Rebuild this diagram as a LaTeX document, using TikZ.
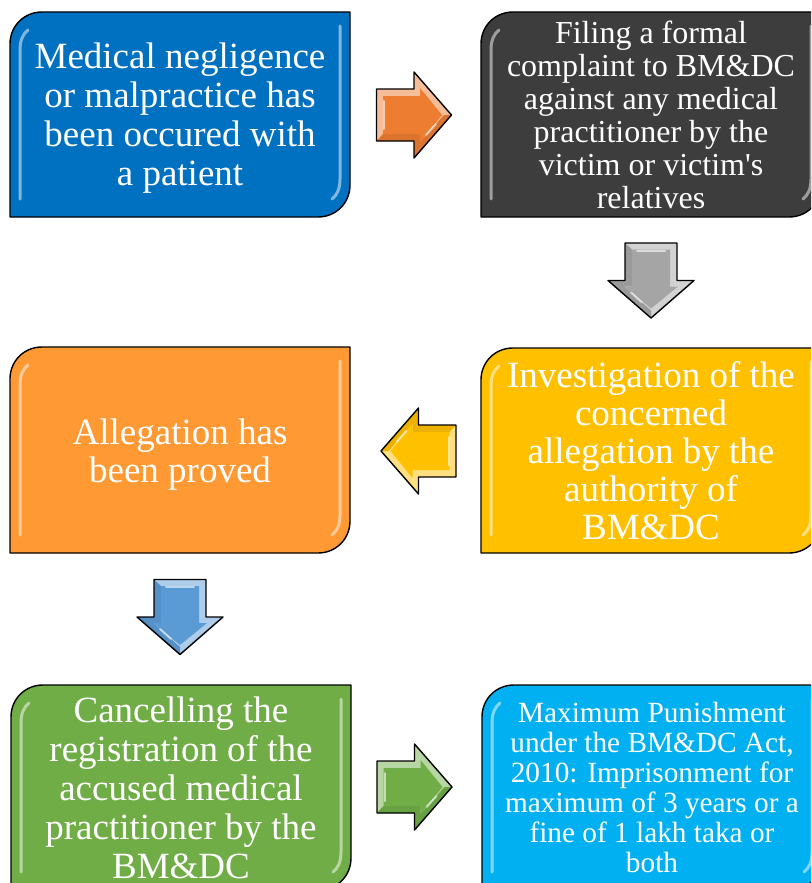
\documentclass[tikz,border=0pt]{standalone}
\usepackage{fontspec}
\setmainfont{Liberation Serif}
\definecolor{boxblue}{HTML}{0070C0}
\definecolor{boxdark}{HTML}{3D3D3D}
\definecolor{boxorange}{HTML}{FF9933}
\definecolor{boxgold}{HTML}{FFC000}
\definecolor{boxgreen}{HTML}{70AD47}
\definecolor{boxcyan}{HTML}{00B0F0}
\definecolor{arrorange}{HTML}{ED7D31}
\definecolor{arrgray}{HTML}{A5A5A5}
\definecolor{arrgold}{HTML}{FFC000}
\definecolor{arrblue}{HTML}{5B9BD5}
\definecolor{arrgreen}{HTML}{70AD47}
\tikzset{
  outline/.style={draw=black, line width=1.4pt, line join=round},
  gloss/.style={draw=white, opacity=0.5, line width=3pt, line cap=round},
  boxtext/.style={text=white, align=center, inner sep=0pt},
}
% box with rounded top-left and bottom-right corners: name, L, T, R, B, fill, text options, text
\newcommand\flowbox[8]{%
  \path[fill=#6] (#2,#5) -- (#2,#3+32) .. controls (#2,#3+14) and (#2+14,#3) .. (#2+32,#3)
    -- (#4,#3) -- (#4,#5-32) .. controls (#4,#5-14) and (#4-14,#5) .. (#4-32,#5) -- cycle;
  \draw[gloss] (#2+10,#5-18) -- (#2+10,#3+38) .. controls (#2+10,#3+28) and (#2+13,#3+22) .. (#2+18,#3+18);
  \draw[gloss] (#4-10,#3+14) -- (#4-10,#5-38) .. controls (#4-10,#5-28) and (#4-13,#5-22) .. (#4-18,#5-18);
  \path[outline] (#2,#5) -- (#2,#3+32) .. controls (#2,#3+14) and (#2+14,#3) .. (#2+32,#3)
    -- (#4,#3) -- (#4,#5-32) .. controls (#4,#5-14) and (#4-14,#5) .. (#4-32,#5) -- cycle;
  \node[boxtext, #7] (#1) at ({(#2+#4)/2},{(#3+#5)/2}) {#8};
}
% bevelled block arrow: name, centre x, centre y, rotation, colour
\newcommand\bevelarrow[5]{%
  \coordinate (#1) at (#2,#3);
  \begin{scope}[shift={(#2,#3)}, rotate=#4]
    \fill[#5!50!white] (-37.5,-26) -- (0,-26) -- (0,-43) -- (37.5,0) -- (0,43) -- (0,26) -- (-37.5,26) -- cycle;
    \fill[#5!93!black] (-37.5,26) -- (0,26) -- (0,43) -- (37.5,0) -- (30,0) -- (6,27) -- (6,19) -- (-31,19) -- cycle;
    \fill[#5] (-31,-19) -- (6,-19) -- (6,-27) -- (28,0) -- (6,27) -- (6,19) -- (-31,19) -- cycle;
    \draw[gloss, opacity=0.6, line width=2pt] (-30,-14) -- (-30,14);
    \draw[gloss, opacity=0.6, line width=2pt] (12,20) -- (22,9);
    \path[outline] (-37.5,-26) -- (0,-26) -- (0,-43) -- (37.5,0) -- (0,43) -- (0,26) -- (-37.5,26) -- cycle;
  \end{scope}
}
\begin{document}
\begin{tikzpicture}[x=1pt,y=-1pt]
\useasboundingbox (0,0) rectangle (811,883);
\clip (0,0) rectangle (811,883);

\flowbox{occur}{10}{12}{350}{217}{boxblue}{font=\fontsize{37}{39}\selectfont, yshift=-4pt}{Medical negligence\\or malpractice has\\been occured with\\a patient}
\flowbox{complaint}{481}{12}{821}{217}{boxdark}{font=\fontsize{32}{33}\selectfont}{Filing a formal\\complaint to BM\&DC\\against any medical\\practitioner by the\\victim or victim\textquotesingle s\\relatives}
\flowbox{proved}{10}{347}{350}{553}{boxorange}{font=\fontsize{37}{38}\selectfont, yshift=-5pt}{Allegation has\\been proved}
\flowbox{investigate}{481}{348}{821}{553}{boxgold}{font=\fontsize{37}{38}\selectfont}{Investigation of the\\concerned\\allegation by the\\authority of\\BM\&DC}
\flowbox{cancel}{11}{685}{351}{890}{boxgreen}{font=\fontsize{37}{39}\selectfont}{Cancelling the\\registration of the\\accused medical\\practitioner by the\\BM\&DC}
\flowbox{punish}{482}{685}{822}{890}{boxcyan}{font=\fontsize{29.3}{30}\selectfont}{Maximum Punishment\\under the BM\&DC Act,\\2010: Imprisonment for\\maximum of 3 years or a\\fine of 1 lakh taka or\\both}

\bevelarrow{a1}{414}{115}{0}{arrorange}
\bevelarrow{a2}{651}{280.5}{-90}{arrgray}
\bevelarrow{a3}{418.5}{451}{180}{arrgold}
\bevelarrow{a4}{180}{617}{-90}{arrblue}
\bevelarrow{a5}{414.5}{787}{0}{arrgreen}
\end{tikzpicture}
\end{document}
